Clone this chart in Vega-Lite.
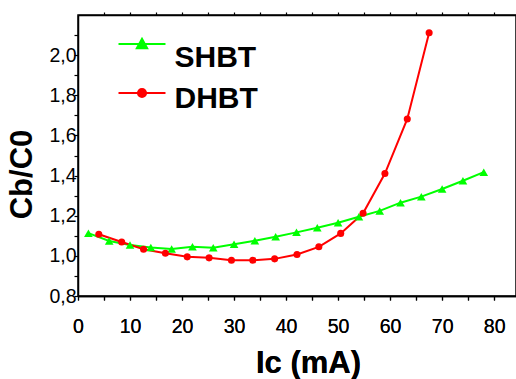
{
  "$schema": "https://vega.github.io/schema/vega-lite/v6.json",
  "width": 438,
  "height": 281,
  "autosize": {"type": "none"},
  "padding": {"left": 78, "top": 15, "right": 0, "bottom": 83},
  "background": "white",
  "config": {
    "font": "Liberation Sans",
    "view": {"stroke": "black", "strokeWidth": 1.5},
    "axis": {
      "grid": false,
      "domainColor": "black",
      "domainWidth": 1.5,
      "tickColor": "black",
      "tickWidth": 1.2,
      "tickSize": 4,
      "labelColor": "black",
      "labelFont": "Liberation Sans",
      "labelFontSize": 19.5,
      "titleFont": "Liberation Sans",
      "titleFontSize": 31,
      "titleFontWeight": "bold",
      "titleColor": "black"
    },
    "legend": {
      "orient": "none",
      "legendX": 44.5,
      "legendY": 9.5,
      "title": null,
      "padding": 0,
      "rowPadding": 0,
      "symbolSize": 1369,
      "symbolStrokeWidth": 2,
      "labelFont": "Liberation Sans",
      "labelFontSize": 30,
      "labelFontWeight": "bold",
      "labelColor": "black",
      "labelBaseline": "middle",
      "labelOffset": 13,
      "labelLimit": 300
    }
  },
  "data": {
    "values": [
      {"series": "SHBT", "ic": 2, "ratio": 1.113},
      {"series": "SHBT", "ic": 6, "ratio": 1.074},
      {"series": "SHBT", "ic": 10, "ratio": 1.054},
      {"series": "SHBT", "ic": 14, "ratio": 1.042},
      {"series": "SHBT", "ic": 18, "ratio": 1.034},
      {"series": "SHBT", "ic": 22, "ratio": 1.045},
      {"series": "SHBT", "ic": 26, "ratio": 1.04},
      {"series": "SHBT", "ic": 30, "ratio": 1.058},
      {"series": "SHBT", "ic": 34, "ratio": 1.075},
      {"series": "SHBT", "ic": 38, "ratio": 1.095},
      {"series": "SHBT", "ic": 42, "ratio": 1.117},
      {"series": "SHBT", "ic": 46, "ratio": 1.14},
      {"series": "SHBT", "ic": 50, "ratio": 1.165},
      {"series": "SHBT", "ic": 54, "ratio": 1.195},
      {"series": "SHBT", "ic": 58, "ratio": 1.224},
      {"series": "SHBT", "ic": 62, "ratio": 1.265},
      {"series": "SHBT", "ic": 66, "ratio": 1.295},
      {"series": "SHBT", "ic": 70, "ratio": 1.333},
      {"series": "SHBT", "ic": 74, "ratio": 1.374},
      {"series": "SHBT", "ic": 78, "ratio": 1.417},
      {"series": "DHBT", "ic": 4.0, "ratio": 1.108},
      {"series": "DHBT", "ic": 8.4, "ratio": 1.069},
      {"series": "DHBT", "ic": 12.6, "ratio": 1.033},
      {"series": "DHBT", "ic": 16.8, "ratio": 1.013},
      {"series": "DHBT", "ic": 21.0, "ratio": 0.995},
      {"series": "DHBT", "ic": 25.2, "ratio": 0.99},
      {"series": "DHBT", "ic": 29.5, "ratio": 0.978},
      {"series": "DHBT", "ic": 33.6, "ratio": 0.978},
      {"series": "DHBT", "ic": 37.8, "ratio": 0.985},
      {"series": "DHBT", "ic": 42.1, "ratio": 1.007},
      {"series": "DHBT", "ic": 46.3, "ratio": 1.045},
      {"series": "DHBT", "ic": 50.5, "ratio": 1.112},
      {"series": "DHBT", "ic": 54.8, "ratio": 1.212},
      {"series": "DHBT", "ic": 59.0, "ratio": 1.41},
      {"series": "DHBT", "ic": 63.3, "ratio": 1.682},
      {"series": "DHBT", "ic": 67.5, "ratio": 2.112}
    ]
  },
  "encoding": {
    "x": {
      "field": "ic", "type": "quantitative",
      "scale": {"domain": [0, 84.2], "nice": false, "zero": false},
      "axis": {
        "orient": "bottom",
        "title": "Ic (mA)",
        "values": [0, 5, 10, 15, 20, 25, 30, 35, 40, 45, 50, 55, 60, 65, 70, 75, 80],
        "labelExpr": "datum.value % 10 == 0 ? datum.label : ''",
        "labelPadding": 17,
        "labelFlush": false,
        "titleX": 230,
        "titleY": 67,
        "titleAlign": "center",
        "titleBaseline": "middle"
      }
    },
    "y": {
      "field": "ratio", "type": "quantitative",
      "scale": {"domain": [0.8, 2.2], "nice": false, "zero": false},
      "axis": {
        "title": "Cb/C0",
        "values": [0.8, 0.9, 1.0, 1.1, 1.2, 1.3, 1.4, 1.5, 1.6, 1.7, 1.8, 1.9, 2.0, 2.1],
        "labelExpr": "round(datum.value*10) % 2 == 0 ? replace(format(datum.value, '.1f'), '.', ',') : ''",
        "labelPadding": -2,
        "labelFlush": false,
        "titleX": -56,
        "titleY": 159,
        "titleAlign": "center",
        "titleBaseline": "middle"
      }
    },
    "color": {
      "field": "series", "type": "nominal",
      "scale": {"domain": ["SHBT", "DHBT"], "range": ["#00FF00", "#FF0000"]},
      "legend": {
        "encode": {
          "symbols": {
            "update": {
              "shape": {"signal": "datum.value === 'SHBT' ? 'M-1.27,0H1.27M-0.28,0.23L0,-0.28L0.28,0.23Z' : 'M-1.27,0H1.27M-0.22,0A0.22,0.22,0,1,0,0.22,0A0.22,0.22,0,1,0,-0.22,0Z'"},
              "fill": {"scale": "color", "field": "value"},
              "stroke": {"scale": "color", "field": "value"},
              "strokeWidth": {"value": 2},
              "opacity": {"value": 1},
              "fillOpacity": {"value": 1},
              "strokeOpacity": {"value": 1}
            }
          },
          "labels": {
            "update": {
              "dy": {"signal": "datum.value === 'SHBT' ? 14 : 6"}
            }
          }
        }
      }
    }
  },
  "layer": [
    {
      "mark": {"type": "line", "strokeWidth": 2}
    },
    {
      "transform": [{"filter": "datum.series === 'SHBT'"}],
      "mark": {"type": "point", "shape": "triangle-up", "filled": true, "opacity": 1, "size": 75},
      "encoding": {
        "x": {
          "field": "ic", "type": "quantitative",
          "axis": {
            "orient": "top",
            "title": null,
            "labels": false,
            "values": [5, 10, 15, 20, 25, 30, 35, 40, 45, 50, 55, 60, 65, 70, 75, 80],
            "tickSize": 3
          }
        }
      }
    },
    {
      "transform": [{"filter": "datum.series === 'DHBT'"}],
      "mark": {"type": "point", "shape": "circle", "filled": true, "opacity": 1, "size": 50}
    }
  ]
}
